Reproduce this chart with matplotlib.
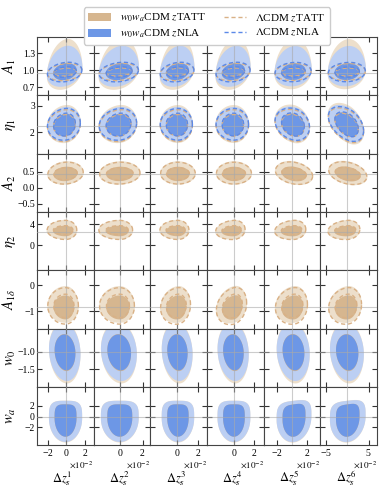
import numpy as np
import matplotlib
matplotlib.use('Agg')
import matplotlib.pyplot as plt
from matplotlib.patches import Patch
from matplotlib.lines import Line2D
from matplotlib.ticker import ScalarFormatter, FixedLocator, FixedFormatter

plt.rcParams['font.family'] = ['Liberation Serif', 'DejaVu Serif']
plt.rcParams['mathtext.fontset'] = 'stix'

# --- parametros (filas) y desplazamientos dz (columnas) ---
param_labels = [r'$A_1$', r'$\eta_1$', r'$A_2$', r'$\eta_2$', r'$A_{1\delta}$', r'$w_0$', r'$w_a$']
dz_labels = [r'$\Delta z_s^{%d}$' % i for i in range(1, 7)]

# limites en unidades de 1e-2
dz_lims = [(-3.2, 2.95), (-2.4, 2.7), (-2.6, 2.85), (-2.7, 3.0), (-3.7, 3.8), (-6.2, 7.0)]
dz_ticks = [[-2, 0, 2], [0, 2], [0, 2], [0, 2], [-2, 2], [-5, 5]]
param_lims = [(0.56, 1.59), (1.19, 3.4), (-0.75, 1.07), (-4.7, 6.3),
              (-1.67, 0.57), (-2.0, -0.34), (-5.4, 5.6)]
param_ticks = [[0.7, 1.0, 1.3], [2, 3], [-0.5, 0.0, 0.5], [0, 4], [-1, 0], [-1.5, -1.0], [-2, 0, 2]]
param_ticklabels = [['0.7', '1.0', '1.3'], ['2', '3'], ['\u22120.5', '0.0', '0.5'],
                    ['0', '4'], ['\u22121', '0'], ['\u22121.5', '\u22121.0'], ['\u22122', '0', '2']]
truth_param = [0.96, 2.24, 0.44, 2.6, -0.83, -1.0, 0.0]

# anchura (95%) de los contornos en dz, por columna (1e-2)
dz_center = [-0.1, -0.05, 0.05, 0.0, 0.3, 0.15]
dz_half = [1.8, 1.7, 1.56, 1.65, 2.3, 4.15]
# factores por fila
row_wscale = [1.07, 1.02, 1.1, 0.92, 0.95, 0.95, 1.0]
row_xskew = [0.05, 0.1, 0.0, 0.24, 0.16, 0.05, 0.0]
row_qtop = [1.0, 1.0, 1.0, 1.0, 1.0, 1.0, 0.55]
inner_ratio = 0.66

# inclinacion de cada panel (fila x columna)
tilt = [[0.2, 0.2, 0.2, 0.2, 0.1, 0.1],
        [0.1, 0.1, 0.0, 0.0, -0.2, -0.45],
        [0.1, 0.05, 0.0, 0.0, -0.25, -0.3],
        [0.0, 0.0, 0.0, 0.1, 0.1, 0.1],
        [0.0, 0.0, 0.1, 0.2, 0.1, 0.1],
        [-0.1, -0.1, -0.1, -0.1, -0.1, -0.1],
        [0.0, 0.0, 0.0, 0.0, 0.1, 0.1]]

# contornos en el parametro: (centro, sup95, inf95, sup68, inf68)
tatt_w0wa = [(0.97, 0.58, 0.3, 0.16, 0.14), (2.3, 0.73, 0.71, 0.4, 0.45),
             (0.44, 0.39, 0.34, 0.22, 0.23), (2.7, 2.1, 1.6, 1.0, 1.0),
             (-0.83, 0.79, 0.62, 0.43, 0.49), (-1.0, 0.85, 0.9, 0.5, 0.55),
             (-0.3, 3.3, 4.6, 2.6, 3.5)]
nla_w0wa = [(0.98, 0.45, 0.26, 0.14, 0.15), (2.3, 0.66, 0.65, 0.39, 0.45),
            None, None, None,
            (-1.0, 0.8, 0.83, 0.49, 0.53), (-0.3, 3.27, 4.5, 2.6, 3.5)]
tatt_lcdm = [(0.97, 0.15, 0.15, 0.07, 0.07), (2.27, 0.58, 0.62, 0.4, 0.42),
             (0.45, 0.35, 0.33, 0.18, 0.2), (2.9, 1.8, 1.8, 0.8, 0.9),
             (-0.8, 0.7, 0.7, 0.45, 0.45), None, None]
nla_lcdm = [(0.97, 0.17, 0.17, 0.09, 0.09), (2.3, 0.6, 0.6, 0.42, 0.44),
            None, None, None, None, None]

tan_out, tan_in = '#eddfcb', '#d6b68f'
blue_out, blue_in = '#bccff3', '#6d97e6'
tan_line, blue_line = '#d9b186', '#5b89e8'


def contorno(i, j, cy, up, dn, frac):
    t = np.linspace(0, 2 * np.pi, 300)
    c, s = np.cos(t), np.sin(t)
    q = row_qtop[i]
    w = dz_half[j] * row_wscale[i] * frac
    sk = row_xskew[i]
    cc = np.where(s > 0, np.sign(c) * np.abs(c) ** q, c)
    ss = np.where(s > 0, np.abs(s) ** q, s)
    x = np.where(cc >= 0, w * (1 - sk), w * (1 + sk)) * cc
    y = np.where(ss >= 0, up, dn) * ss
    y = y + tilt[i][j] * 0.5 * (up + dn) * x / w
    return (dz_center[j] + x) * 1e-2, cy + y


fig, axs = plt.subplots(7, 6, figsize=(3.81, 4.86), dpi=100)
fig.subplots_adjust(left=0.097, right=0.99, top=0.924, bottom=0.084, wspace=0, hspace=0)

for i in range(7):
    for j in range(6):
        ax = axs[i, j]
        ax.axvline(0, color='#aaaaaa', lw=0.8, alpha=0.6, zorder=5)
        ax.axhline(truth_param[i], color='#aaaaaa', lw=0.8, alpha=0.6, zorder=5)

        for datos, c_out, c_in in [(tatt_w0wa, tan_out, tan_in), (nla_w0wa, blue_out, blue_in)]:
            d = datos[i]
            if d is None:
                continue
            x, y = contorno(i, j, d[0], d[1], d[2], 1.0)
            ax.fill(x, y, color=c_out, lw=0, zorder=1)
            x, y = contorno(i, j, d[0], d[3], d[4], inner_ratio)
            ax.fill(x, y, color=c_in, lw=0, zorder=2)

        for datos, col in [(tatt_lcdm, tan_line), (nla_lcdm, blue_line)]:
            d = datos[i]
            if d is None:
                continue
            x, y = contorno(i, j, d[0], d[1], d[2], 0.97)
            ax.plot(x, y, color=col, lw=1.0, ls=(0, (3, 2)), zorder=6)
            x, y = contorno(i, j, d[0], d[3], d[4], inner_ratio * 0.97)
            ax.plot(x, y, color=col, lw=1.0, ls=(0, (3, 2)), zorder=6)

        ax.set_xlim(dz_lims[j][0] * 1e-2, dz_lims[j][1] * 1e-2)
        ax.set_ylim(param_lims[i])
        ax.xaxis.set_major_locator(FixedLocator([v * 1e-2 for v in dz_ticks[j]]))
        ax.yaxis.set_major_locator(FixedLocator(param_ticks[i]))
        ax.tick_params(direction='in', top=True, right=True, length=3.5, width=0.8,
                       labelsize=7, pad=1.5, color='#333333')
        for sp in ax.spines.values():
            sp.set_color('#444444')
            sp.set_linewidth(0.8)

        if j == 0:
            ax.yaxis.set_major_formatter(FixedFormatter(param_ticklabels[i]))
            ax.set_ylabel(param_labels[i], fontsize=10.5)
            ax.yaxis.set_label_coords(-0.34, 0.5)
        else:
            ax.set_yticklabels([])
        if i == 6:
            fmt = ScalarFormatter(useMathText=True)
            fmt.set_powerlimits((-1, 1))
            ax.xaxis.set_major_formatter(fmt)
            ax.xaxis.get_offset_text().set_visible(False)
            ax.text(1.0, -0.235, r'$\times10^{-2}$', transform=ax.transAxes,
                    ha='right', va='top', fontsize=6.5)
            ax.set_xlabel(dz_labels[j], fontsize=9)
            ax.xaxis.set_label_coords(0.45, -0.41)
        else:
            ax.set_xticklabels([])

handles = [Patch(facecolor=tan_in, edgecolor='none'),
           Patch(facecolor=blue_in, edgecolor='none'),
           Line2D([], [], color=tan_line, ls=(0, (3, 2)), lw=1.0),
           Line2D([], [], color=blue_line, ls=(0, (3, 2)), lw=1.0)]
labels = [r'$w_0w_a$CDM $z$TATT', r'$w_0w_a$CDM $z$NLA',
          r'$\Lambda$CDM $z$TATT', r'$\Lambda$CDM $z$NLA']
fig.legend(handles, labels, loc='upper center', bbox_to_anchor=(0.543, 0.996), ncol=2,
           fontsize=8, handlelength=2.0, columnspacing=1.6, borderpad=0.4,
           labelspacing=0.3, framealpha=1.0, edgecolor='#cccccc')

fig.savefig('out.png', dpi=100)
